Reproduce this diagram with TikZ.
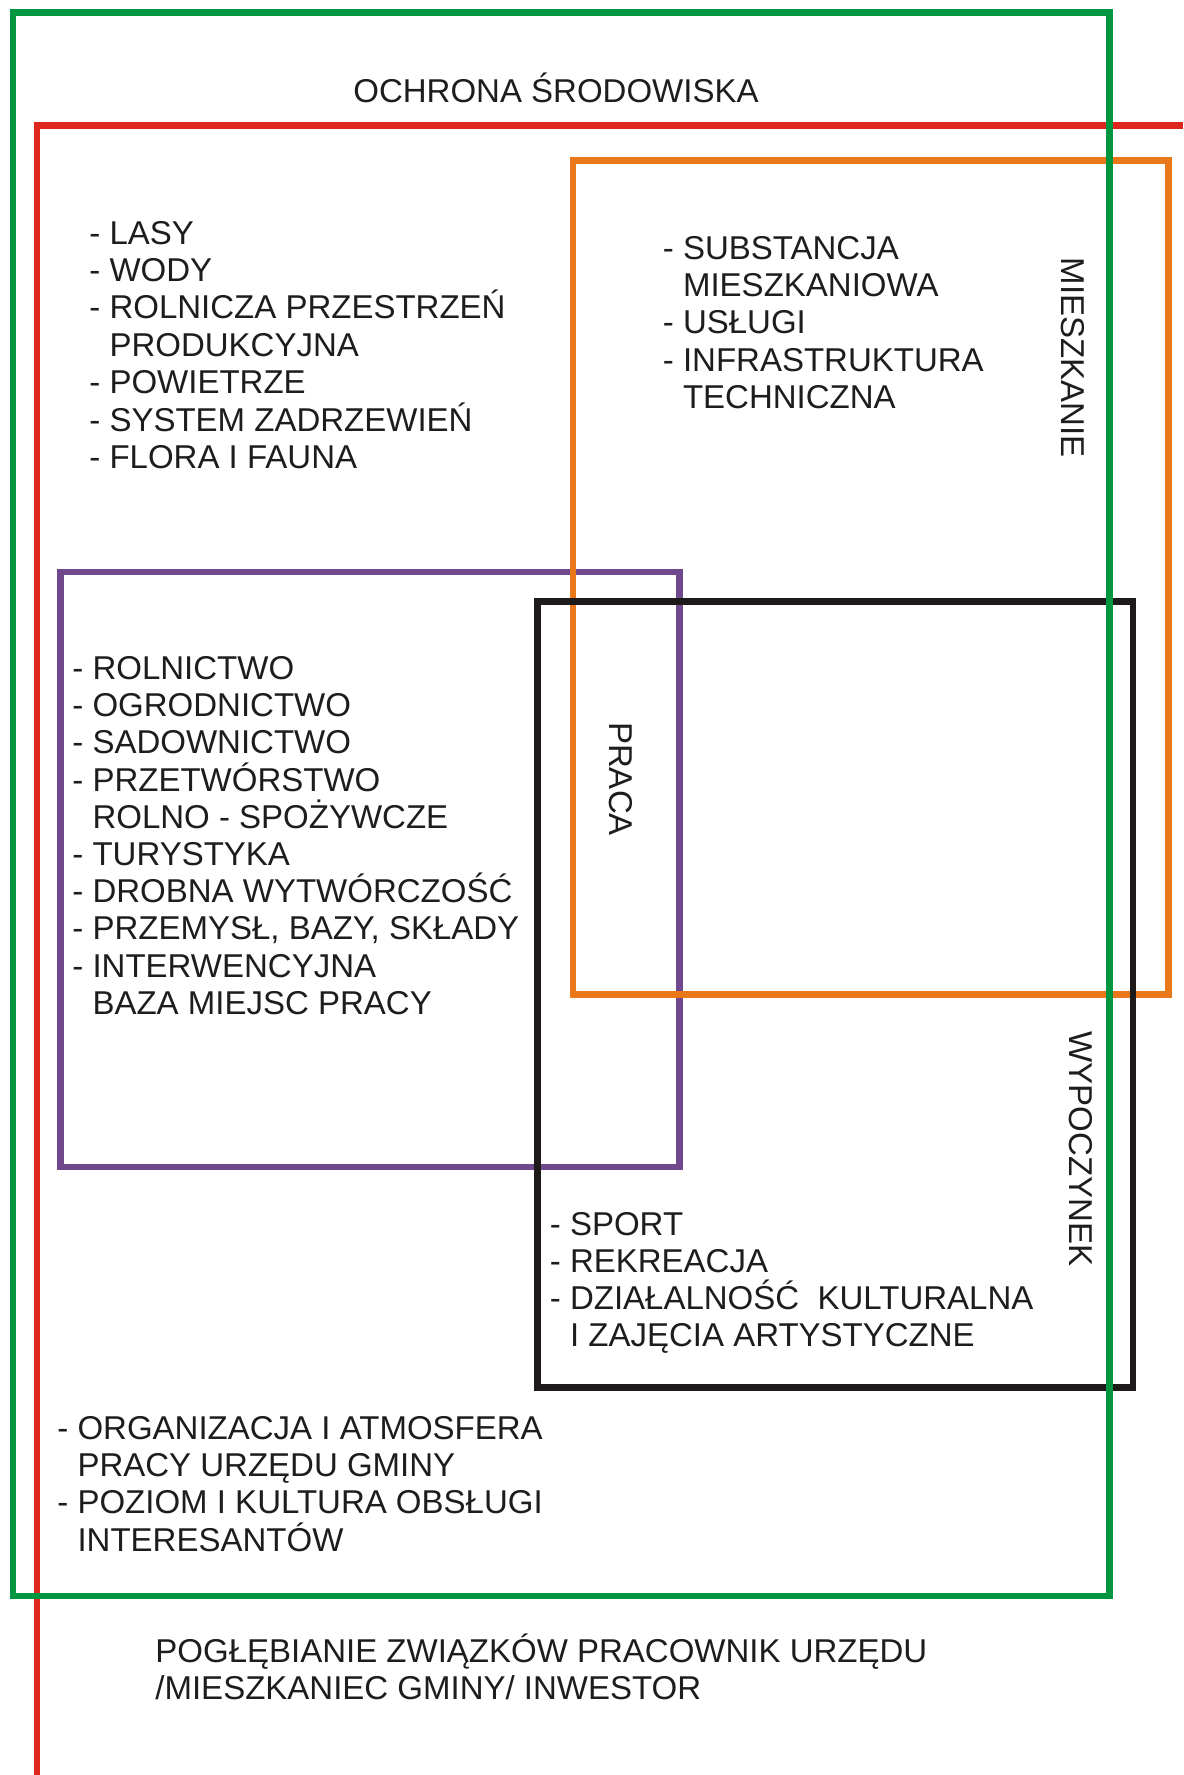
\documentclass[tikz,border=0pt]{standalone}
\usepackage{fontspec}
\setmainfont{Liberation Sans}
\definecolor{cgreen}{RGB}{0,150,64}
\definecolor{cred}{RGB}{220,38,30}
\definecolor{corange}{RGB}{232,120,26}
\definecolor{cpurple}{RGB}{112,72,142}
\definecolor{cblack}{RGB}{30,26,26}
\definecolor{ink}{RGB}{29,29,27}
\begin{document}
\begin{tikzpicture}[x=0.5pt,y=-0.5pt,
  frame/.style={line width=3.35pt, line join=miter},
  lbl/.style={anchor=base west, inner sep=0pt, text=ink, font=\fontsize{16.5}{18.7}\selectfont},
  vlbl/.style={anchor=center, inner sep=0pt, rotate=-90, text=ink, font=\fontsize{16.5}{18.7}\selectfont}]
\fill[white] (0,0) rectangle (1183,1775);
\useasboundingbox (0,0) rectangle (1183,1775);

% frames
\draw[frame, cpurple] (60.7,572) rectangle (679.7,1167);
\draw[frame, corange] (573,160.7) rectangle (1168.3,994.7);
\draw[frame, cblack] (537.7,601.7) rectangle (1133,1387.3);
\draw[frame, cred] (37,1775) -- (37,125.5) -- (1183,125.5);
\draw[frame, cgreen] (13,12.5) rectangle (1109.5,1596);

% title
\node[lbl] (title) at (353,102.5) {OCHRONA ŚRODOWISKA};

% environment
\foreach \t [count=\i from 0] in {{- LASY},{- WODY},{- ROLNICZA PRZESTRZEŃ},{\phantom{- }PRODUKCYJNA},{- POWIETRZE},{- SYSTEM ZADRZEWIEŃ},{- FLORA I FAUNA}}
  \node[lbl] (env\i) at (89,244.1+37.4*\i) {\t};

% housing
\foreach \t [count=\i from 0] in {{- SUBSTANCJA},{\phantom{- }MIESZKANIOWA},{- USŁUGI},{- INFRASTRUKTURA},{\phantom{- }TECHNICZNA}}
  \node[lbl] (hous\i) at (662.5,259.4+37.3*\i) {\t};
\node[vlbl] (mieszkanie) at (1073,357.5) {MIESZKANIE};

% work
\foreach \t [count=\i from 0] in {{- ROLNICTWO},{- OGRODNICTWO},{- SADOWNICTWO},{- PRZETWÓRSTWO},{\phantom{- }ROLNO - SPOŻYWCZE},{- TURYSTYKA},{- DROBNA WYTWÓRCZOŚĆ},{- PRZEMYSŁ, BAZY, SKŁADY},{- INTERWENCYJNA},{\phantom{- }BAZA MIEJSC PRACY}}
  \node[lbl] (work\i) at (72,679.5+37.2*\i) {\t};
\node[vlbl] (praca) at (620.5,779) {PRACA};

% leisure
\foreach \t [count=\i from 0] in {{- SPORT},{- REKREACJA},{- DZIAŁALNOŚĆ\ \ KULTURALNA},{\phantom{- }I ZAJĘCIA ARTYSTYCZNE}}
  \node[lbl] (leis\i) at (549.5,1235.6+37.1*\i) {\t};
\node[vlbl] (wypoczynek) at (1081,1149) {WYPOCZYNEK};

% office
\foreach \t [count=\i from 0] in {{- ORGANIZACJA I ATMOSFERA},{\phantom{- }PRACY URZĘDU GMINY},{- POZIOM I KULTURA OBSŁUGI},{\phantom{- }INTERESANTÓW}}
  \node[lbl] (off\i) at (57,1439+37.4*\i) {\t};

% bottom
\node[lbl] (bot0) at (155,1662.8) {POGŁĘBIANIE ZWIĄZKÓW PRACOWNIK URZĘDU};
\node[lbl] (bot1) at (155,1699.5) {/MIESZKANIEC GMINY/ INWESTOR};
\end{tikzpicture}
\end{document}
